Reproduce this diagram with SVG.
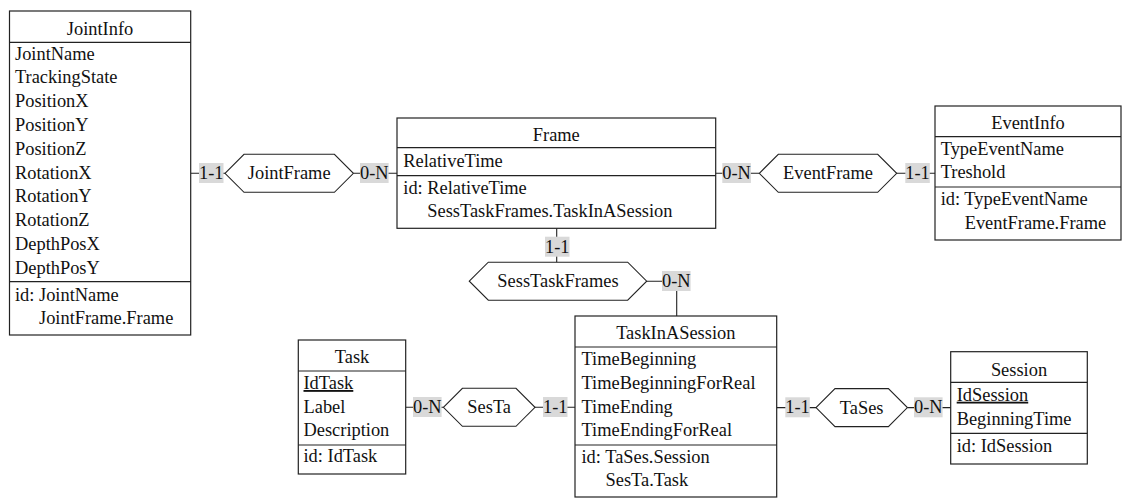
<svg xmlns="http://www.w3.org/2000/svg" width="1122" height="498" viewBox="0 0 1122 498">
<style>
text{font-family:"Liberation Serif","Times New Roman",serif;font-size:18.4px;fill:#111}
.box{fill:#fff;stroke:#222;stroke-width:1.2}
.sep{stroke:#222;stroke-width:1.2}
.hex{fill:#fff;stroke:#222;stroke-width:1.1}
.ln{stroke:#222;stroke-width:1.1;fill:none}
.lb{fill:#d9d9d9}
.c{text-anchor:middle}
.u{text-decoration:underline}
</style>
<rect width="1122" height="498" fill="#fff"/>
<g id="connectors">
<path class="ln" d="M190.7 173.3H225M353.4 173.3H397"/>
<path class="ln" d="M715.7 173.3H759.3M896.7 173.3H935"/>
<path class="ln" d="M556.7 228.3V262.2M646.7 281.2H676.7V316"/>
<path class="ln" d="M405.7 407.3H443.4M535 407.3H575"/>
<path class="ln" d="M776.7 407.6H816M907.4 407.6H950.7"/>
<rect class="lb" x="199" y="163" width="24.5" height="20"/><text class="c" x="211.3" y="179">1-1</text>
<rect class="lb" x="360" y="163" width="28.6" height="20"/><text class="c" x="374.3" y="179">0-N</text>
<rect class="lb" x="722.3" y="163" width="28.6" height="20"/><text class="c" x="736.6" y="179">0-N</text>
<rect class="lb" x="905.3" y="163" width="24.5" height="20"/><text class="c" x="917.5" y="179">1-1</text>
<rect class="lb" x="545" y="236.7" width="24.5" height="20"/><text class="c" x="557.3" y="252.7">1-1</text>
<rect class="lb" x="662" y="271" width="28.6" height="20"/><text class="c" x="676.3" y="287">0-N</text>
<rect class="lb" x="413" y="397" width="28.6" height="20"/><text class="c" x="427.3" y="413">0-N</text>
<rect class="lb" x="543" y="397" width="24.5" height="20"/><text class="c" x="555.3" y="413">1-1</text>
<rect class="lb" x="785.3" y="397.3" width="24.5" height="20"/><text class="c" x="797.5" y="413.3">1-1</text>
<rect class="lb" x="914" y="397.3" width="28.6" height="20"/><text class="c" x="928.3" y="413.3">0-N</text>
</g>
<g id="JointFrame">
<polygon class="hex" points="225,173.3 244,154.3 334.4,154.3 353.4,173.3 334.4,192.3 244,192.3"/>
<text class="c" x="289.2" y="179.3">JointFrame</text>
</g>
<g id="EventFrame">
<polygon class="hex" points="759.3,173.3 778.3,154.3 877.7,154.3 896.7,173.3 877.7,192.3 778.3,192.3"/>
<text class="c" x="828" y="179.3">EventFrame</text>
</g>
<g id="SessTaskFrames">
<polygon class="hex" points="469.3,281.2 488.3,262.2 627.7,262.2 646.7,281.2 627.7,300.2 488.3,300.2"/>
<text class="c" x="558" y="287.2">SessTaskFrames</text>
</g>
<g id="SesTa">
<polygon class="hex" points="443.4,407.3 462.4,388.3 516,388.3 535,407.3 516,426.3 462.4,426.3"/>
<text class="c" x="489.2" y="413.3">SesTa</text>
</g>
<g id="TaSes">
<polygon class="hex" points="816,407.6 835,388.6 888.4,388.6 907.4,407.6 888.4,426.6 835,426.6"/>
<text class="c" x="861.7" y="413.6">TaSes</text>
</g>
<g id="JointInfo">
<rect class="box" x="9.5" y="11" width="181.2" height="324"/>
<line class="sep" x1="9.5" y1="42.3" x2="190.7" y2="42.3"/>
<line class="sep" x1="9.5" y1="281.7" x2="190.7" y2="281.7"/>
<text class="c" x="100" y="35">JointInfo</text>
<text x="15" y="59.5">JointName</text>
<text x="15" y="83.3">TrackingState</text>
<text x="15" y="107.1">PositionX</text>
<text x="15" y="130.9">PositionY</text>
<text x="15" y="154.7">PositionZ</text>
<text x="15" y="178.5">RotationX</text>
<text x="15" y="202.3">RotationY</text>
<text x="15" y="226.1">RotationZ</text>
<text x="15" y="249.9">DepthPosX</text>
<text x="15" y="273.7">DepthPosY</text>
<text x="15" y="300.5">id: JointName</text>
<text x="39" y="324">JointFrame.Frame</text>
</g>
<g id="Frame">
<rect class="box" x="397" y="118" width="318.7" height="110.3"/>
<line class="sep" x1="397" y1="147.7" x2="715.7" y2="147.7"/>
<line class="sep" x1="397" y1="175.7" x2="715.7" y2="175.7"/>
<text class="c" x="556.3" y="141">Frame</text>
<text x="403.3" y="167">RelativeTime</text>
<text x="403.3" y="193.7">id: RelativeTime</text>
<text x="427.3" y="217.3">SessTaskFrames.TaskInASession</text>
</g>
<g id="EventInfo">
<rect class="box" x="935" y="106" width="186" height="134"/>
<line class="sep" x1="935" y1="136.7" x2="1121" y2="136.7"/>
<line class="sep" x1="935" y1="187" x2="1121" y2="187"/>
<text class="c" x="1028" y="129">EventInfo</text>
<text x="940.7" y="155">TypeEventName</text>
<text x="940.7" y="178.3">Treshold</text>
<text x="940.7" y="205.3">id: TypeEventName</text>
<text x="964.7" y="229">EventFrame.Frame</text>
</g>
<g id="Task">
<rect class="box" x="298.3" y="340" width="107.4" height="134"/>
<line class="sep" x1="298.3" y1="371" x2="405.7" y2="371"/>
<line class="sep" x1="298.3" y1="445" x2="405.7" y2="445"/>
<text class="c" x="352" y="363">Task</text>
<text class="u" x="303.5" y="389">IdTask</text>
<text x="303.5" y="412.8">Label</text>
<text x="303.5" y="436.3">Description</text>
<text x="303.5" y="462.3">id: IdTask</text>
</g>
<g id="TaskInASession">
<rect class="box" x="575" y="316" width="201.7" height="181"/>
<line class="sep" x1="575" y1="347" x2="776.7" y2="347"/>
<line class="sep" x1="575" y1="445" x2="776.7" y2="445"/>
<text class="c" x="675.8" y="339">TaskInASession</text>
<text x="581.5" y="365.3">TimeBeginning</text>
<text x="581.5" y="388.9">TimeBeginningForReal</text>
<text x="581.5" y="412.5">TimeEnding</text>
<text x="581.5" y="436.1">TimeEndingForReal</text>
<text x="581.5" y="462.5">id: TaSes.Session</text>
<text x="605.5" y="486">SesTa.Task</text>
</g>
<g id="Session">
<rect class="box" x="950.7" y="351.7" width="136.6" height="112.3"/>
<line class="sep" x1="950.7" y1="382.3" x2="1087.3" y2="382.3"/>
<line class="sep" x1="950.7" y1="433.3" x2="1087.3" y2="433.3"/>
<text class="c" x="1019" y="375.5">Session</text>
<text class="u" x="956.7" y="400.7">IdSession</text>
<text x="956.7" y="424.5">BeginningTime</text>
<text x="956.7" y="451.5">id: IdSession</text>
</g>
</svg>
